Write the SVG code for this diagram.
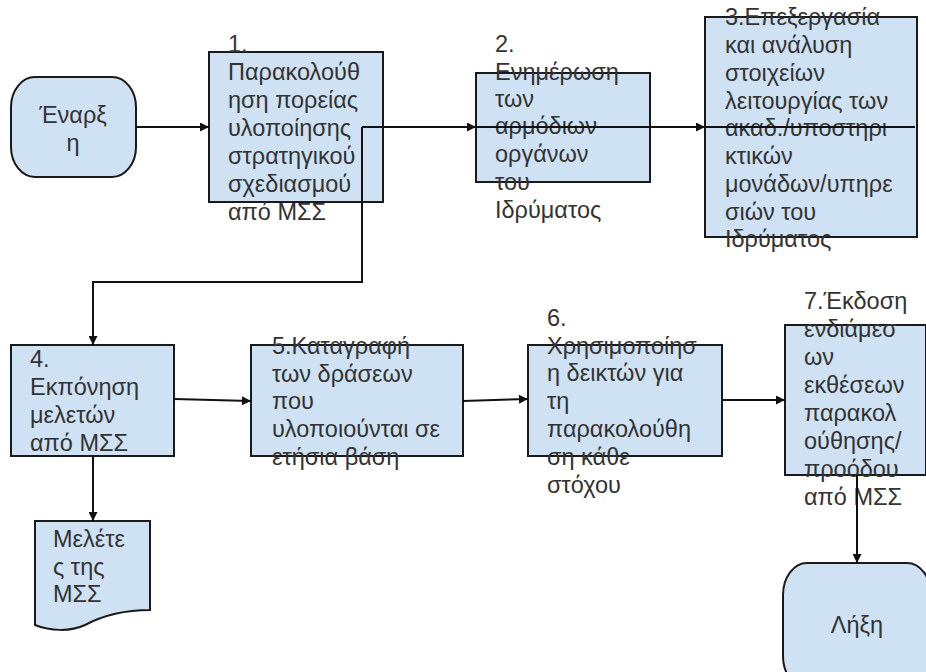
<svg xmlns="http://www.w3.org/2000/svg" width="926" height="672" viewBox="0 0 926 672">
<style>
.box{fill:#cfe2f3;stroke:#1a1a1a;stroke-width:2}
.t{font-family:"Liberation Sans",Arial,sans-serif;font-size:23.5px;fill:#333}
.c{text-anchor:middle}
.ln{fill:none;stroke:#111;stroke-width:2}
</style>
<defs>
<marker id="ar" viewBox="0 0 10 10" refX="10" refY="5" markerWidth="5" markerHeight="4.5" orient="auto" markerUnits="strokeWidth">
<path d="M0,0 L10,5 L0,10 z" fill="#111"/>
</marker>
</defs>
<rect width="926" height="672" fill="#fff"/>
<g id="start">
<rect class="box" x="11" y="77" width="125" height="100" rx="24" ry="30"/>
<text class="t c" x="73" y="123">Έναρξ</text>
<text class="t c" x="73" y="151">η</text>
</g>
<g id="n1">
<rect class="box" x="209" y="52" width="174" height="150"/>
<text class="t"><tspan x="228" y="52">1.</tspan><tspan x="228" y="80">Παρακολούθ</tspan><tspan x="228" y="108">ηση πορείας</tspan><tspan x="228" y="136">υλοποίησης</tspan><tspan x="228" y="164">στρατηγικού</tspan><tspan x="228" y="192">σχεδιασμού</tspan><tspan x="228" y="220">από ΜΣΣ</tspan></text>
</g>
<g id="n2">
<rect class="box" x="476" y="73" width="174" height="109"/>
<text class="t"><tspan x="495" y="52">2.</tspan><tspan x="495" y="80">Ενημέρωση</tspan><tspan x="495" y="107">των</tspan><tspan x="495" y="134">αρμόδιων</tspan><tspan x="495" y="162">οργάνων</tspan><tspan x="495" y="190">του</tspan><tspan x="495" y="218">Ιδρύματος</tspan></text>
</g>
<g id="n3">
<rect class="box" x="705" y="17" width="212" height="220"/>
<text class="t"><tspan x="725" y="25">3.Επεξεργασία</tspan><tspan x="725" y="53">και ανάλυση</tspan><tspan x="725" y="81">στοιχείων</tspan><tspan x="725" y="109">λειτουργίας των</tspan><tspan x="725" y="136">ακαδ./υποστηρι</tspan><tspan x="725" y="164">κτικών</tspan><tspan x="725" y="192">μονάδων/υπηρε</tspan><tspan x="725" y="220">σιών του</tspan><tspan x="725" y="247">Ιδρύματος</tspan></text>
</g>
<g id="n4">
<rect class="box" x="11" y="345" width="163" height="111"/>
<text class="t"><tspan x="30" y="367">4.</tspan><tspan x="30" y="395">Εκπόνηση</tspan><tspan x="30" y="423">μελετών</tspan><tspan x="30" y="451">από ΜΣΣ</tspan></text>
</g>
<g id="n5">
<rect class="box" x="251" y="345" width="212" height="111"/>
<text class="t"><tspan x="272" y="354">5.Καταγραφή</tspan><tspan x="272" y="382">των δράσεων</tspan><tspan x="272" y="409">που</tspan><tspan x="272" y="437">υλοποιούνται σε</tspan><tspan x="272" y="465">ετήσια βάση</tspan></text>
</g>
<g id="n6">
<rect class="box" x="528" y="345" width="194" height="111"/>
<text class="t"><tspan x="547" y="326">6.</tspan><tspan x="547" y="354">Χρησιμοποίησ</tspan><tspan x="547" y="381">η δεικτών για</tspan><tspan x="547" y="409">τη</tspan><tspan x="547" y="437">παρακολούθη</tspan><tspan x="547" y="465">ση κάθε</tspan><tspan x="547" y="493">στόχου</tspan></text>
</g>
<g id="n7">
<rect class="box" x="785" y="325" width="141" height="150"/>
<text class="t"><tspan x="804" y="309">7.Έκδοση</tspan><tspan x="804" y="337">ενδιάμεσ</tspan><tspan x="804" y="365">ων</tspan><tspan x="804" y="393">εκθέσεων</tspan><tspan x="804" y="421">παρακολ</tspan><tspan x="804" y="449">ούθησης/</tspan><tspan x="804" y="477">προόδου</tspan><tspan x="804" y="505">από ΜΣΣ</tspan></text>
</g>
<g id="doc">
<path class="box" d="M35,521 H150 V610 C120,610 100,617 85,625 C70,632 50,631 35,625 Z"/>
<text class="t"><tspan x="53" y="547">Μελέτε</tspan><tspan x="53" y="575">ς της</tspan><tspan x="53" y="602">ΜΣΣ</tspan></text>
</g>
<g id="end">
<rect class="box" x="783" y="563" width="148" height="125" rx="24" ry="32"/>
<text class="t c" x="857" y="633">Λήξη</text>
</g>
<g id="connectors">
<line class="ln" x1="136" y1="127" x2="209" y2="127" marker-end="url(#ar)"/>
<line class="ln" x1="362" y1="127" x2="476" y2="127" marker-end="url(#ar)"/>
<line class="ln" x1="476" y1="127" x2="705" y2="127" marker-end="url(#ar)"/>
<line class="ln" x1="705" y1="127" x2="915" y2="127"/>
<polyline class="ln" points="362,127 362,282 93,282 93,345" marker-end="url(#ar)"/>
<line class="ln" x1="174" y1="399" x2="251" y2="401" marker-end="url(#ar)"/>
<line class="ln" x1="93" y1="456" x2="93" y2="521" marker-end="url(#ar)"/>
<line class="ln" x1="463" y1="401" x2="528" y2="399" marker-end="url(#ar)"/>
<line class="ln" x1="722" y1="400" x2="785" y2="400" marker-end="url(#ar)"/>
<line class="ln" x1="857" y1="475" x2="857" y2="563" marker-end="url(#ar)"/>
</g>
</svg>
